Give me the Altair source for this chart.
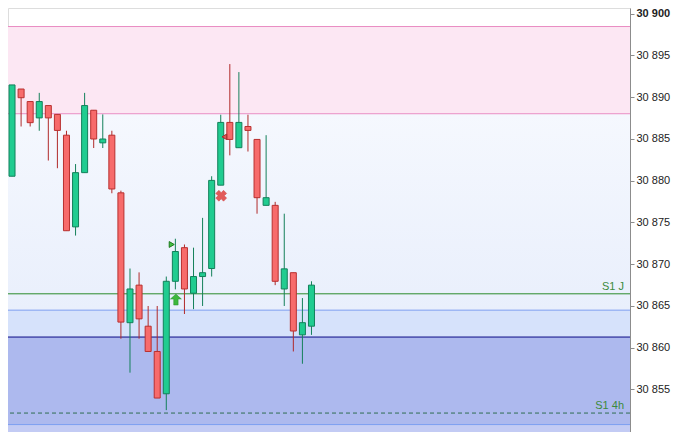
import altair as alt
import pandas as pd

# ---- candle data (index, open, high, low, close) ----
idx = list(range(34))
opens = [30880.53, 30890.98, 30889.48, 30887.52, 30889.00, 30887.94, 30885.45, 30874.46,
         30880.96, 30888.44, 30884.53, 30885.45, 30878.54, 30862.98, 30867.48, 30862.56,
         30859.53, 30854.46, 30867.94, 30871.97, 30866.51, 30868.51, 30869.47, 30879.46,
         30886.98, 30883.95, 30886.49, 30884.94, 30877.04, 30877.04, 30867.02, 30868.97,
         30861.52, 30862.56]
highs = [30891.47, 30890.98, 30889.48, 30890.52, 30889.00, 30887.94, 30885.98, 30881.99,
         30890.52, 30888.44, 30887.94, 30885.98, 30878.80, 30869.47, 30869.01, 30864.98,
         30864.98, 30868.51, 30873.04, 30872.35, 30871.97, 30875.54, 30880.53, 30887.90,
         30893.97, 30893.01, 30887.90, 30884.94, 30885.45, 30877.46, 30876.04, 30868.97,
         30865.93, 30867.94]
lows = [30880.53, 30886.49, 30886.49, 30885.98, 30882.41, 30881.49, 30874.00, 30873.42,
        30880.96, 30883.91, 30883.91, 30878.49, 30861.06, 30856.99, 30861.06, 30859.53,
        30853.95, 30852.50, 30866.97, 30864.02, 30864.60, 30864.98, 30868.51, 30879.46,
        30883.03, 30883.95, 30883.49, 30876.04, 30877.04, 30867.48, 30864.98, 30859.53,
        30858.06, 30861.52]
closes = [30891.47, 30889.94, 30886.95, 30889.48, 30887.52, 30886.02, 30874.00, 30880.96,
          30889.00, 30884.99, 30884.99, 30879.00, 30863.05, 30867.02, 30863.44, 30859.53,
          30853.95, 30867.94, 30871.51, 30867.02, 30868.51, 30868.97, 30880.03, 30886.98,
          30884.94, 30886.98, 30886.02, 30877.96, 30877.96, 30867.94, 30869.43, 30861.98,
          30862.98, 30867.48]

# ---- background bands ----
band_top = [30898.47, 30864.48, 30861.26, 30850.77]
band_bottom = [30888.02, 30861.26, 30850.77, 30849.00]
band_fill = ["#fce7f3", "#d6e2fb", "#adb9ee", "#c3cbf4"]
grad_top, grad_bottom = 30888.02, 30864.48

# ---- horizontal levels ----
level_val = [30898.47, 30888.02, 30866.44, 30864.48, 30861.26, 30852.15, 30850.77]
level_color = ["#e98dc3", "#e98dc3", "#2b8a2b", "#7b9df0", "#0b0b86", "#2f6d50", "#7b9df0"]
level_dash = ["solid", "solid", "solid", "solid", "solid", "dash", "solid"]

# ---- level labels ----
label_text = ["S1 J", "S1 4h"]
label_val = [30866.44, 30852.15]

# ---- markers ----
mark_x = [17.6, 18.06, 23.05, 23.4]
mark_y = [30872.35, 30865.75, 30878.19, 30885.25]
mark_kind = ["tri", "arrow", "cross", "ltri"]

W, H = 622, 424
XDOM = [0.107, 67.55]
YDOM = [30849.88, 30900.69]
tick_vals = [30855, 30860, 30865, 30870, 30875, 30880, 30885, 30890, 30895, 30900]

cdf = pd.DataFrame({"i": idx, "open": opens, "high": highs, "low": lows, "close": closes})
cdf["up"] = cdf["close"] >= cdf["open"]

xs = alt.Scale(domain=XDOM, nice=False, zero=False)
ys = alt.Scale(domain=YDOM, nice=False, zero=False)

yaxis = alt.Axis(
    orient="right", values=tick_vals, grid=False, tickSize=4, labelPadding=2,
    domainColor="#8c8c8c", tickColor="#8c8c8c", labelColor="#222222",
    labelFont="Liberation Sans", labelFontSize=11,
    labelExpr="replace(format(datum.value, ',d'), ',', ' ')",
    labelFontWeight={"condition": {"test": "datum.value == 30900", "value": "bold"}, "value": "normal"},
    title=None,
)

bdf = pd.DataFrame({"top": band_top, "bottom": band_bottom, "fill": band_fill})
bands = alt.Chart(bdf).mark_rect().encode(
    x=alt.value(0), x2=alt.value(W),
    y=alt.Y("top:Q", scale=ys, axis=yaxis), y2="bottom:Q",
    color=alt.Color("fill:N", scale=None),
)

gdf = pd.DataFrame({"top": [grad_top], "bottom": [grad_bottom]})
grad = alt.Chart(gdf).mark_rect(
    color=alt.Gradient(gradient="linear", x1=0, x2=0, y1=0, y2=1,
                       stops=[alt.GradientStop(color="#f5f8fe", offset=0),
                              alt.GradientStop(color="#e9effc", offset=1)])
).encode(x=alt.value(0), x2=alt.value(W), y=alt.Y("top:Q", scale=ys), y2="bottom:Q")

ldf = pd.DataFrame({"v": level_val, "c": level_color, "d": level_dash})
levels = alt.Chart(ldf).mark_rule(strokeWidth=1).encode(
    y=alt.Y("v:Q", scale=ys),
    color=alt.Color("c:N", scale=None),
    strokeDash=alt.StrokeDash("d:N", scale=alt.Scale(domain=["solid", "dash"], range=[[1, 0], [4, 3]]), legend=None),
)

tdf = pd.DataFrame({"t": label_text, "v": label_val})
labels = alt.Chart(tdf).mark_text(align="right", baseline="bottom", dy=-2, dx=-6,
                                  font="Liberation Sans", fontSize=11, color="#3c8a3c").encode(
    x=alt.value(W), y=alt.Y("v:Q", scale=ys), text="t:N")

wicks = alt.Chart(cdf).mark_rule(strokeWidth=1, clip=True).encode(
    x=alt.X("i:Q", scale=xs, axis=None),
    y=alt.Y("low:Q", scale=ys), y2="high:Q",
    color=alt.condition("datum.up", alt.value("#14805a"), alt.value("#b02a2a")),
)
bodies = alt.Chart(cdf).mark_bar(size=6, strokeWidth=1, clip=True).encode(
    x=alt.X("i:Q", scale=xs, axis=None),
    y=alt.Y("open:Q", scale=ys), y2="close:Q",
    fill=alt.condition("datum.up", alt.value("#20cc90"), alt.value("#f76b6b")),
    stroke=alt.condition("datum.up", alt.value("#12805a"), alt.value("#b8302f")),
)

mdf = pd.DataFrame({"x": mark_x, "y": mark_y, "k": mark_kind})
tri = alt.Chart(mdf[mdf.k == "tri"]).mark_point(shape="triangle-right", size=34, filled=True,
                                                 fill="#44c044", stroke="#1f7a1f", strokeWidth=1, opacity=1).encode(
    x=alt.X("x:Q", scale=xs), y=alt.Y("y:Q", scale=ys))
ltri = alt.Chart(mdf[mdf.k == "ltri"]).mark_point(shape="triangle-left", size=30, filled=True,
                                                   fill="#e05858", stroke="#a52a2a", strokeWidth=1, opacity=1).encode(
    x=alt.X("x:Q", scale=xs), y=alt.Y("y:Q", scale=ys))
arrow = alt.Chart(mdf[mdf.k == "arrow"]).mark_point(
    shape="M0,-1 L1,-0.1 L0.4,-0.1 L0.4,1 L-0.4,1 L-0.4,-0.1 L-1,-0.1 Z",
    size=120, filled=True, fill="#3db83d", stroke="#2a902a", strokeWidth=0.5, opacity=1).encode(
    x=alt.X("x:Q", scale=xs), y=alt.Y("y:Q", scale=ys))
cross = alt.Chart(mdf[mdf.k == "cross"]).mark_point(shape="cross", angle=45, size=120, filled=True,
                                                     fill="#e25a5a", stroke="#d04848", strokeWidth=0.5, opacity=1).encode(
    x=alt.X("x:Q", scale=xs), y=alt.Y("y:Q", scale=ys))

chart = alt.layer(bands, grad, levels, labels, wicks, bodies, tri, ltri, arrow, cross).properties(
    width=W, height=H,
    autosize=alt.AutoSizeParams(type="none"),
    padding={"left": 0, "top": 0, "right": 43, "bottom": 0},
).configure_view(stroke=None).configure(background="white")

chart.save("out.html", embed_options={"renderer": "svg", "actions": False})
